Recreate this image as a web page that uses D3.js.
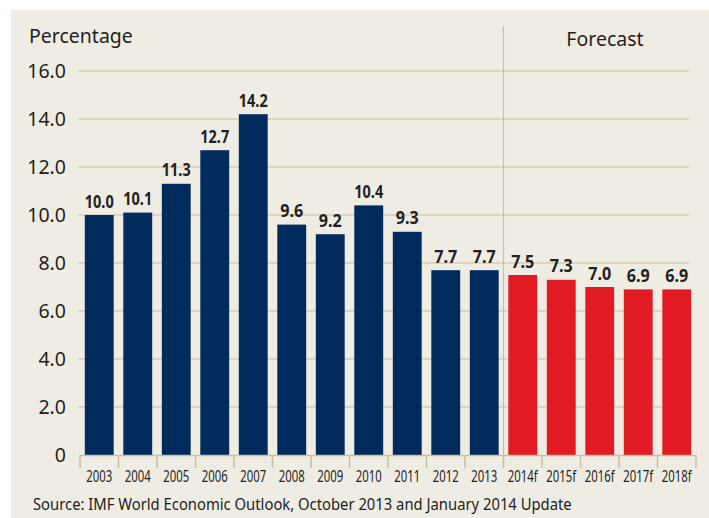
<!DOCTYPE html>
<html>
<head>
<meta charset="utf-8">
<script src="https://cdn.jsdelivr.net/npm/d3@7"></script>
<style>
  html, body { margin: 0; padding: 0; background: #fff; }
  svg text { font-family: "Noto Sans", "Open Sans", sans-serif; fill: #231f20; }
</style>
</head>
<body>
<svg id="chart"></svg>
<script>
var years = ["2003", "2004", "2005", "2006", "2007", "2008", "2009", "2010",
             "2011", "2012", "2013", "2014f", "2015f", "2016f", "2017f", "2018f"];
var growth = [10.0, 10.1, 11.3, 12.7, 14.2, 9.6, 9.2, 10.4, 9.3, 7.7, 7.7,
              7.5, 7.3, 7.0, 6.9, 6.9];
var forecastFrom = "2014f";
var yTicks = [0, 2, 4, 6, 8, 10, 12, 14, 16];

var W = 709, H = 518;
var svg = d3.select("#chart").attr("width", W).attr("height", H);

// squeeze a text horizontally to a target width (the original uses a condensed face)
function condense(sel, width) {
  sel.each(function(d, i) {
    var t = d3.select(this);
    var w = this.getComputedTextLength();
    var target = typeof width === "function" ? width(d, i) : width;
    var cx = +t.attr("x"), cy = +t.attr("y");
    t.attr("x", 0).attr("y", 0)
     .attr("transform", "translate(" + cx + "," + cy + ") scale(" + Math.min(1, target / w) + ",1)");
  });
}

// panel background
svg.append("rect")
  .attr("x", 11).attr("y", 10)
  .attr("width", W - 11).attr("height", H - 10)
  .attr("fill", "#efece4");

var x = d3.scaleBand().domain(years).range([80, 696]).paddingInner(0.25).paddingOuter(0.125);
var y = d3.scaleLinear().domain([0, 16]).range([455, 71]);

var grid = "#c9c09c";

// horizontal gridlines
svg.append("g").selectAll("line")
  .data(yTicks.filter(d => d > 0))
  .enter().append("line")
  .attr("x1", 78).attr("x2", 689)
  .attr("y1", d => y(d)).attr("y2", d => y(d))
  .attr("stroke", grid).attr("stroke-width", 1.2);

// forecast separator
var sepX = x(forecastFrom) - x.step() * x.paddingInner() / 2;
svg.append("line")
  .attr("x1", sepX).attr("x2", sepX)
  .attr("y1", 26).attr("y2", 455)
  .attr("stroke", grid).attr("stroke-width", 1.2);

// y tick labels
svg.append("g").selectAll("text")
  .data(yTicks)
  .enter().append("text")
  .attr("x", 66).attr("y", d => y(d) + 7)
  .attr("text-anchor", "end")
  .attr("font-size", 19.5)
  .text(d => d === 0 ? "0" : d3.format(".1f")(d));

// bars
var fi = years.indexOf(forecastFrom);
svg.append("g").selectAll("rect")
  .data(years)
  .enter().append("rect")
  .attr("x", d => x(d))
  .attr("width", x.bandwidth())
  .attr("y", (d, i) => y(growth[i]))
  .attr("height", (d, i) => y(0) - y(growth[i]))
  .attr("fill", (d, i) => i >= fi ? "#e01b23" : "#002b5c");

// value labels
svg.append("g").selectAll("text")
  .data(years)
  .enter().append("text")
  .attr("x", d => x(d) + x.bandwidth() / 2)
  .attr("y", (d, i) => y(growth[i]) - 7.5)
  .attr("text-anchor", "middle")
  .attr("font-size", 17)
  .attr("font-weight", "bold")
  .text((d, i) => d3.format(".1f")(growth[i]))
  .call(condense, (d, i) => d3.format(".1f")(growth[i]).length > 3 ? 29 : 23);

// x axis
var xAxis = svg.append("g");
xAxis.append("line")
  .attr("x1", 80).attr("x2", 696)
  .attr("y1", 455.5).attr("y2", 455.5)
  .attr("stroke", grid).attr("stroke-width", 1.5);
var bounds = years.map((d, i) => x(d) - x.step() * x.paddingInner() / 2);
bounds.push(696);
xAxis.selectAll("line.tick")
  .data(bounds)
  .enter().append("line")
  .attr("class", "tick")
  .attr("x1", d => d).attr("x2", d => d)
  .attr("y1", 455).attr("y2", 468)
  .attr("stroke", grid).attr("stroke-width", 1.5);
xAxis.selectAll("text")
  .data(years)
  .enter().append("text")
  .attr("x", d => x(d) + x.bandwidth() / 2)
  .attr("y", 482)
  .attr("text-anchor", "middle")
  .attr("font-size", 16.5)
  .text(d => d)
  .call(condense, d => d.length > 4 ? 30 : 26);

// titles
svg.append("text")
  .attr("x", 29).attr("y", 43)
  .attr("font-size", 19.5)
  .text("Percentage");
svg.append("text")
  .attr("x", 605).attr("y", 46)
  .attr("text-anchor", "middle")
  .attr("font-size", 19.5)
  .text("Forecast");

svg.append("text")
  .attr("x", 33).attr("y", 510)
  .attr("font-size", 16)
  .text("Source: IMF World Economic Outlook, October 2013 and January 2014 Update")
  .call(condense, 539);
</script>
</body>
</html>
